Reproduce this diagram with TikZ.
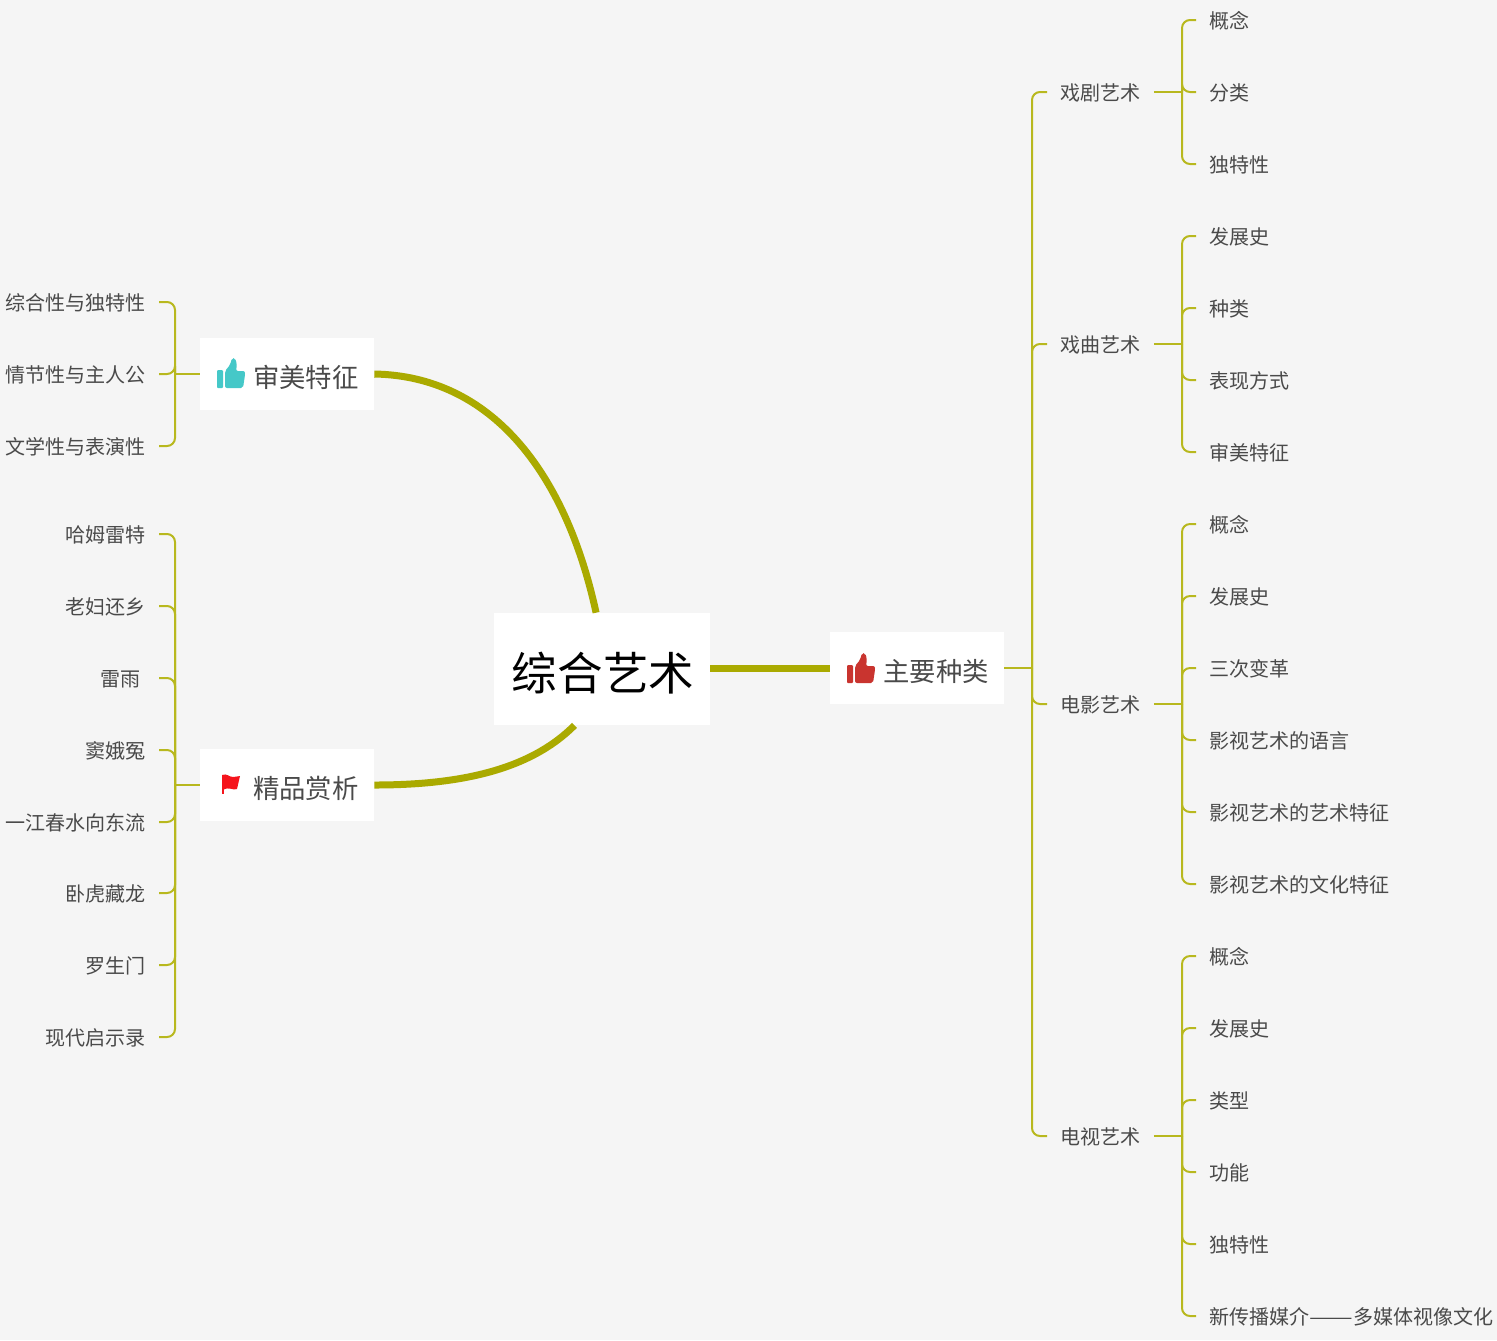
\documentclass[tikz,border=0pt]{standalone}
\usepackage{fontspec}
\setmainfont{Noto Sans CJK SC}
\usepackage{xcolor}
\usetikzlibrary{calc,positioning}
\definecolor{PageBg}{HTML}{F5F5F5}
\definecolor{Olive}{HTML}{AAAA00}
\definecolor{Twig}{HTML}{B8B81E}
\definecolor{Ink}{HTML}{4A4A4A}
\definecolor{Teal}{HTML}{45C8C8}
\definecolor{ThumbRed}{HTML}{C9342F}
\definecolor{FlagRed}{HTML}{F5141C}

\begin{document}
\begin{tikzpicture}[
  x=0.02cm,y=-0.02cm,
  rootbox/.style={fill=white,minimum width=4.32cm,minimum height=2.24cm,inner sep=0pt,text height=0.85cm,text depth=0pt,font=\fontsize{25.9}{30}\selectfont,text=black},
  mainbox/.style={fill=white,minimum width=3.48cm,minimum height=1.44cm,inner sep=0pt,text height=0.54cm,text depth=0pt,font=\fontsize{15}{18}\selectfont,text=Ink},
  midtext/.style={inner xsep=0.26cm,inner ysep=2pt,text height=0.34cm,text depth=0pt,font=\fontsize{11.4}{14}\selectfont,text=Ink,anchor=west},
  leafr/.style={midtext},
  leafl/.style={midtext,anchor=east},
  bough/.style={draw=Olive,line width=0.14cm},
  twig/.style={draw=Twig,line width=0.04cm,rounded corners=0.16cm},
  thumb/.pic={
    \fill[rounded corners=0.02cm] (-14,-3) rectangle (-8,15);
    \fill[rounded corners=0.04cm] (-6,15) -- (-6,-2) -- (-1,-8) -- (1,-15) -- (4,-15) -- (6,-9) -- (5,-2) -- (14,-2) -- (14,2) -- (12,15) -- cycle;
  },
  flagicon/.pic={
    \fill (-9,-10) rectangle (-7,9);
    \fill (-9,-10) .. controls (-4,-12) and (-2,-8) .. (2,-8) .. controls (5,-8) and (7,-9) .. (9,-9) -- (6,4) .. controls (2,6) and (-2,1) .. (-8,5) -- cycle;
  }
]
\fill[PageBg] (0,0) rectangle (1497,1340);
\useasboundingbox (0,0) rectangle (1497,1340);

\node[rootbox] (root) at (602,669) {\hspace*{0.04cm}综合艺术};
\node[mainbox] (zl) at (917,668) {\hspace*{0.76cm}主要种类};
\node[mainbox] (tz) at (287,374) {\hspace*{0.76cm}审美特征};
\node[mainbox] (sx) at (287,785) {\hspace*{0.76cm}精品赏析};
\pic[ThumbRed,fill=ThumbRed] at (861,668) {thumb};
\pic[Teal,fill=Teal] at (231,373) {thumb};
\pic[FlagRed,fill=FlagRed] at (231,785) {flagicon};

\draw[bough] (zl.west -| root.east) -- (zl.west);
\draw[bough] (tz.east) .. controls (490,376) and (565,470) .. (root.96);
\draw[bough] (sx.east) .. controls (460,785) and (530,770) .. (root.244);

% right side
\coordinate (hubzl) at (1032,668);
\draw[twig] (zl.east) -- (hubzl);
\foreach \m/\y/\t in {a/92/戏剧艺术,b/344/戏曲艺术,c/704/电影艺术,d/1136/电视艺术}{
  \node[midtext] (\m) at (1047,\y) {\t};
  \coordinate (hub\m) at (1182,\y);
  \draw[twig] (hubzl) |- (\m.west);
  \draw[twig] (\m.east) -- (hub\m);
}
\foreach \m/\i/\y/\t in {a/1/20/概念,a/2/92/分类,a/3/164/独特性,
  b/1/236/发展史,b/2/308/种类,b/3/380/表现方式,b/4/452/审美特征,
  c/1/524/概念,c/2/596/发展史,c/3/668/三次变革,c/4/740/影视艺术的语言,c/5/812/影视艺术的艺术特征,c/6/884/影视艺术的文化特征,
  d/1/956/概念,d/2/1028/发展史,d/3/1100/类型,d/4/1172/功能,d/5/1244/独特性,d/6/1316/新传播媒介\scalebox{1.3}[1]{——}多媒体视像文化}{
  \node[leafr] (\m\i) at (1196,\y) {\t};
  \draw[twig] (hub\m) |- (\m\i.west);
}

% left side
\coordinate (hubtz) at (175,374);
\coordinate (hubsx) at (175,785);
\draw[twig] (tz.west) -- (hubtz);
\draw[twig] (sx.west) -- (hubsx);
\foreach \i/\y/\t in {1/302/综合性与独特性,2/374/情节性与主人公,3/446/文学性与表演性}{
  \node[leafl] (tz\i) at (159,\y) {\t};
  \draw[twig] (hubtz) |- (tz\i.east);
}
\foreach \i/\y/\t in {1/534/哈姆雷特,2/606/老妇还乡,3/678/雷雨\kern0.1cm,4/750/窦娥冤,5/822/一江春水向东流,6/893/卧虎藏龙,7/965/罗生门,8/1037/现代启示录}{
  \node[leafl] (sx\i) at (159,\y) {\t};
  \draw[twig] (hubsx) |- (sx\i.east);
}
\end{tikzpicture}
\end{document}
